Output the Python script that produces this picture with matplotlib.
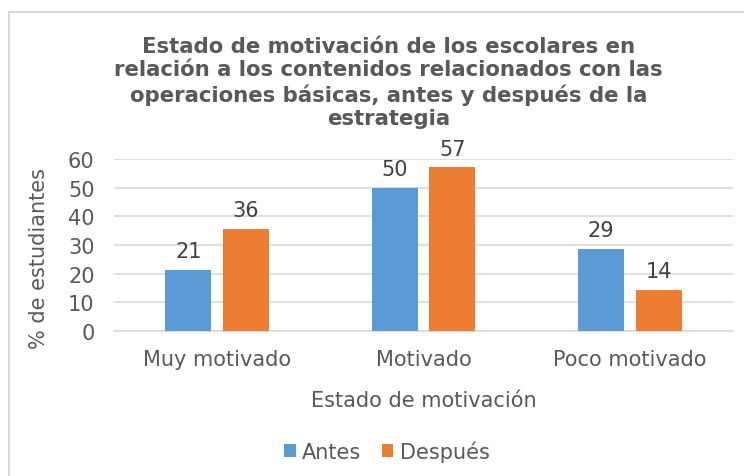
import numpy as np
import matplotlib.pyplot as plt
from matplotlib.lines import Line2D

categorias = ['Muy motivado', 'Motivado', 'Poco motivado']
antes = [21.4, 50.0, 28.6]
despues = [35.7, 57.1, 14.3]
series = ['Antes', 'Después']

gris = '#595959'
azul = '#5B9BD5'
naranja = '#ED7D31'

plt.rcParams['font.family'] = 'DejaVu Sans'

fig = plt.figure(figsize=(7.44, 4.77), dpi=100)
ax = fig.add_axes([114 / 744, 1 - 332 / 477, 619 / 744, 172 / 477])

x = np.arange(len(categorias))
w = 0.223
off = 0.14
b1 = ax.bar(x - off, antes, w, color=azul, label=series[0], zorder=3)
b2 = ax.bar(x + off, despues, w, color=naranja, label=series[1], zorder=3)

for bars in (b1, b2):
    for r in bars:
        ax.text(r.get_x() + r.get_width() / 2, r.get_height() + 3.0,
                '%.0f' % r.get_height(), ha='center', va='bottom',
                fontsize=15, color='#404040')

ax.set_xlim(-0.5, 2.5)
ax.set_ylim(0, 60)
ax.set_yticks(range(0, 61, 10))
ax.set_xticks(x)
ax.set_xticklabels(categorias)
ax.grid(axis='y', color='#D9D9D9', linewidth=1.2, zorder=0)
for s in ['top', 'right', 'left']:
    ax.spines[s].set_visible(False)
ax.spines['bottom'].set_color('#D9D9D9')
ax.spines['bottom'].set_linewidth(1.2)
ax.tick_params(length=0, labelsize=15, colors=gris)
ax.tick_params(axis='y', pad=14)
ax.tick_params(axis='x', pad=13)

ax.set_ylabel('% de estudiantes', fontsize=15, color=gris)
ax.yaxis.set_label_coords(-0.105, 0.43)
ax.set_xlabel('Estado de motivación', fontsize=15, color=gris, labelpad=15)

fig.text(0.522, 1 - 83 / 477,
         'Estado de motivación de los escolares en\n'
         'relación a los contenidos relacionados con las\n'
         'operaciones básicas, antes y después de la\n'
         'estrategia',
         ha='center', va='center', fontsize=15.3, fontweight='bold',
         color=gris, linespacing=1.22)

fig.legend(handles=[b1, b2], labels=series, loc='center',
           bbox_to_anchor=(0.52, 1 - 452 / 477), ncol=2, frameon=False,
           fontsize=15, labelcolor=gris, handlelength=0.55,
           handleheight=0.55, handletextpad=0.3, columnspacing=1.0)

# marco del grafico
fig.add_artist(Line2D([8.5 / 744, 1], [1 - 13 / 477, 1 - 13 / 477],
                      color='#D9D9D9', linewidth=1.5))
fig.add_artist(Line2D([8.5 / 744, 8.5 / 744], [0, 1 - 13 / 477],
                      color='#D9D9D9', linewidth=1.5))

fig.savefig('out.png', dpi=100)
